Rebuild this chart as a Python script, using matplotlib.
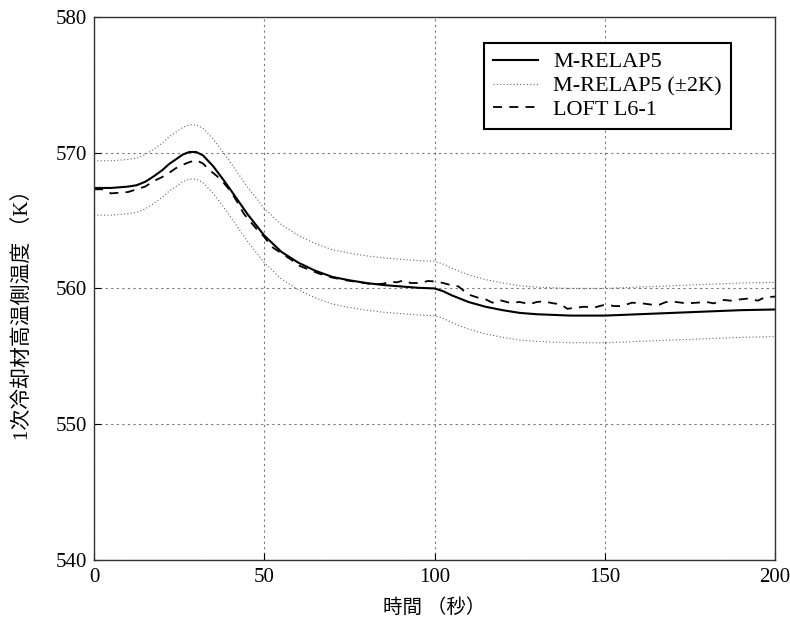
"""
LOFT L6-1 comparison: primary coolant hot-leg temperature vs time.
"""

import matplotlib
matplotlib.use("Agg")
import matplotlib.pyplot as plt

plt.rcParams["font.family"] = ["Liberation Serif", "Noto Sans CJK JP", "DejaVu Sans"]

BLACK = "#000000"
GRID  = "#777777"

# --- M-RELAP5 (solid) ---
t_calc = [0, 5, 10, 12.5, 15, 17.5, 20, 22, 24, 26, 28, 30, 32, 35, 38, 40, 42.5, 45,
          47.5, 50, 55, 60, 65, 70, 75, 80, 85, 90, 95, 100, 102.5, 105, 110, 115,
          120, 125, 130, 140, 150, 160, 170, 180, 190, 200]
temp_calc = [567.4, 567.4, 567.5, 567.6, 567.85, 568.25, 568.7, 569.15, 569.5, 569.85,
             570.05, 570.05, 569.8, 569.0, 568.0, 567.3, 566.4, 565.5, 564.7, 563.9,
             562.7, 561.9, 561.3, 560.85, 560.6, 560.4, 560.25, 560.15, 560.05, 560.0,
             559.8, 559.5, 559.0, 558.65, 558.4, 558.2, 558.1, 558.0, 558.0, 558.1,
             558.2, 558.3, 558.4, 558.45]

# --- M-RELAP5 +2K / -2K (dotted) ---
temp_upper = [569.4, 569.4, 569.5, 569.6, 569.85, 570.25, 570.7, 571.15, 571.5, 571.85,
              572.05, 572.05, 571.8, 571.0, 570.0, 569.3, 568.4, 567.5, 566.7, 565.9,
              564.7, 563.9, 563.3, 562.85, 562.6, 562.4, 562.25, 562.15, 562.05, 562.0,
              561.8, 561.5, 561.0, 560.65, 560.4, 560.2, 560.1, 560.0, 560.0, 560.1,
              560.2, 560.3, 560.4, 560.45]
temp_lower = [565.4, 565.4, 565.5, 565.6, 565.85, 566.25, 566.7, 567.15, 567.5, 567.85,
              568.05, 568.05, 567.8, 567.0, 566.0, 565.3, 564.4, 563.5, 562.7, 561.9,
              560.7, 559.9, 559.3, 558.85, 558.6, 558.4, 558.25, 558.15, 558.05, 558.0,
              557.8, 557.5, 557.0, 556.65, 556.4, 556.2, 556.1, 556.0, 556.0, 556.1,
              556.2, 556.3, 556.4, 556.45]

# --- LOFT L6-1 measured (dashed) ---
t_loft = [0, 2.5, 5, 7.5, 10, 12.5, 15, 17.5, 20, 22, 24, 26, 28, 30, 32, 34, 36, 38,
          40, 42, 44, 46, 48, 50, 52, 55, 58, 60, 63, 66, 70, 74, 78, 82, 85, 87, 89,
          91, 93, 96, 98, 101, 104, 107, 110, 113, 115, 117, 119, 122, 125, 128, 130,
          132, 135, 137, 139, 142, 144, 147, 150, 153, 155, 158, 161, 164, 166, 168,
          171, 174, 177, 180, 182, 185, 187, 190, 192, 195, 197, 200]
temp_loft = [567.3, 567.3, 567.0, 567.05, 567.1, 567.3, 567.5, 567.9, 568.2, 568.5,
             568.85, 569.1, 569.3, 569.45, 569.2, 568.7, 568.3, 567.8, 567.2, 566.4,
             565.5, 564.9, 564.3, 563.8, 563.1, 562.6, 562.1, 561.7, 561.4, 561.1,
             560.8, 560.6, 560.45, 560.3, 560.35, 560.5, 560.45, 560.6, 560.4, 560.4,
             560.55, 560.5, 560.3, 560.15, 559.55, 559.3, 559.2, 558.95, 559.15, 558.95,
             559.0, 558.85, 559.0, 559.05, 558.9, 558.85, 558.5, 558.6, 558.65, 558.6,
             558.8, 558.7, 558.7, 558.95, 558.9, 558.8, 558.8, 559.0, 559.0, 558.9,
             558.95, 559.0, 558.9, 559.15, 559.1, 559.2, 559.25, 559.1, 559.35, 559.4]

XTICKS = [0, 50, 100, 150, 200]
YTICKS = [540, 550, 560, 570, 580]


fig = plt.figure(figsize=(7.9, 6.25), dpi=100)
ax = fig.add_axes([0.119, 0.104, 0.862, 0.869])

ax.plot(t_calc, temp_calc, color=BLACK, linewidth=1.5, label="M-RELAP5")
ax.plot(t_calc, temp_upper, color="#666666", linewidth=0.8, linestyle=(0, (1, 2)),
        label="M-RELAP5 (±2K)")
ax.plot(t_calc, temp_lower, color="#666666", linewidth=0.8, linestyle=(0, (1, 2)))
ax.plot(t_loft, temp_loft, color=BLACK, linewidth=1.3, linestyle=(0, (5, 4)),
        label="LOFT L6-1")

ax.set_xlim(0, 200)
ax.set_ylim(540, 580)
ax.set_xticks(XTICKS)
ax.set_yticks(YTICKS)
ax.tick_params(direction="in", length=5, labelsize=15, colors=BLACK)
ax.tick_params(axis="x", pad=6)
ax.tick_params(axis="y", pad=5)
ax.grid(True, color=GRID, linewidth=0.8, linestyle=(0, (2, 3)))
ax.set_axisbelow(True)
for s in ax.spines.values():
    s.set_color("#333333")
    s.set_linewidth(1.0)

ax.set_xlabel("時間 （秒）", fontsize=14, labelpad=8)
ax.set_ylabel("1次冷却材高温側温度 （K）", fontsize=15)
ax.yaxis.set_label_coords(-0.09, 0.46)

leg = ax.legend(loc="upper right", bbox_to_anchor=(0.935, 0.952), borderaxespad=0,
                fontsize=16, fancybox=False, framealpha=1, edgecolor=BLACK,
                handlelength=2.0, borderpad=0.4, labelspacing=0.15, handletextpad=0.7)
leg.get_frame().set_linewidth(1.5)

fig.savefig("out.png", dpi=100, facecolor="white")
